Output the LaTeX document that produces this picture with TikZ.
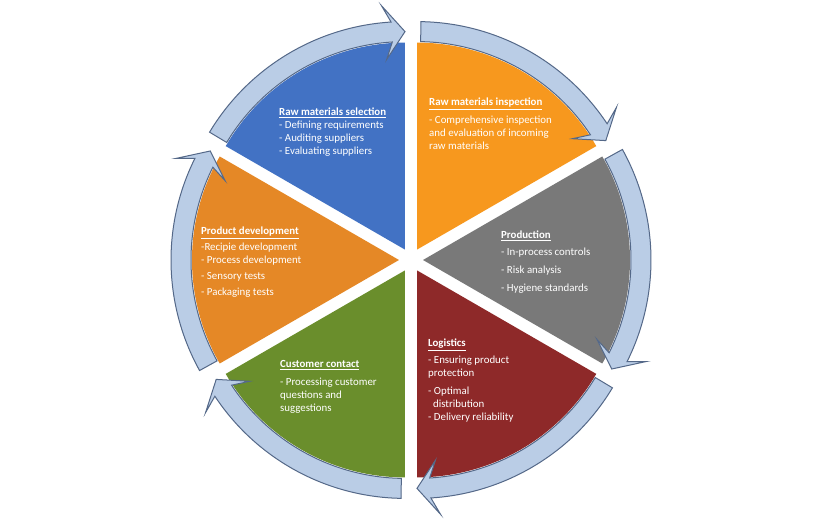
\documentclass[tikz,border=0pt]{standalone}
\usepackage{fontspec}
\setmainfont{Carlito}
\usepackage{tikz}
\usetikzlibrary{calc}
\definecolor{selblue}{RGB}{66,114,196}
\definecolor{inspectorange}{RGB}{247,152,30}
\definecolor{prodgray}{RGB}{121,121,121}
\definecolor{logred}{RGB}{142,41,41}
\definecolor{contgreen}{RGB}{106,142,44}
\definecolor{devorange}{RGB}{229,136,38}
\definecolor{ringfill}{RGB}{186,205,230}
\definecolor{ringedge}{RGB}{84,104,136}
\def\sector[#1](#2){\fill[#1] (#2:12) -- +(#2-30:207) arc[start angle=#2-30, end angle=#2+30, radius=207] -- cycle;}
\def\cyclearrow(#1){\draw[ringfill arrow] ([shift={(#1:12)}]#1+29:228) arc[start angle=#1+29, end angle=#1-26.5, radius=228] -- ([shift={(#1:12)}]#1-24.5:245) -- ([shift={(#1:12)}]#1-30:218) -- ([shift={(#1:12)}]#1-24.5:191) -- ([shift={(#1:12)}]#1-26.5:208) arc[start angle=#1-26.5, end angle=#1+29, radius=208] -- cycle;}

\begin{document}
\begin{tikzpicture}[x=1bp, y=1bp,
	ringfill arrow/.style={fill=ringfill, draw=ringedge, line width=1bp, line join=miter},
	cycletext/.style={anchor=north west, inner sep=0pt, align=left, text=white, font=\fontsize{10.9}{13}\selectfont}]
			%%%%% START %%%%%
			
			\fill[white] (-411, -262) rectangle (409, 260);
			\useasboundingbox (-411, -262) rectangle (409, 260);
			
			\sector[selblue](120);
			\sector[inspectorange](60);
			\sector[prodgray](0);
			\sector[logred](-60);
			\sector[contgreen](-120);
			\sector[devorange](180);
			
			\cyclearrow(120);
			\cyclearrow(60);
			\cyclearrow(0);
			\cyclearrow(-60);
			\cyclearrow(-120);
			\cyclearrow(180);
			
			\node[cycletext] (selection) at (-132, 152) {\underline{\textbf{Raw materials selection}}\\- Defining requirements\\- Auditing suppliers\\- Evaluating suppliers};
			\node[cycletext] (inspection) at (18, 162) {\underline{\textbf{Raw materials inspection}}\\[5pt]- Comprehensive inspection\\and evaluation of incoming\\raw materials};
			\node[cycletext] (production) at (90, 29) {\underline{\textbf{Production}}\\[4pt]- In-process controls\\[5pt]- Risk analysis\\[5pt]- Hygiene standards};
			\node[cycletext] (logistics) at (17, -79) {\underline{\textbf{Logistics}}\\[4pt]- Ensuring product\\protection\\[5pt]- Optimal\\\hspace*{5pt}distribution\\- Delivery reliability};
			\node[cycletext] (contact) at (-131, -100) {\underline{\textbf{Customer contact}}\\[5pt]- Processing customer\\questions and\\suggestions};
			\node[cycletext] (development) at (-210, 33) {\underline{\textbf{Product development}}\\[3pt]-Recipie development\\- Process development\\[3pt]- Sensory tests\\[3pt]- Packaging tests};
			
			%%%%% END %%%%%
\end{tikzpicture}
\end{document}
